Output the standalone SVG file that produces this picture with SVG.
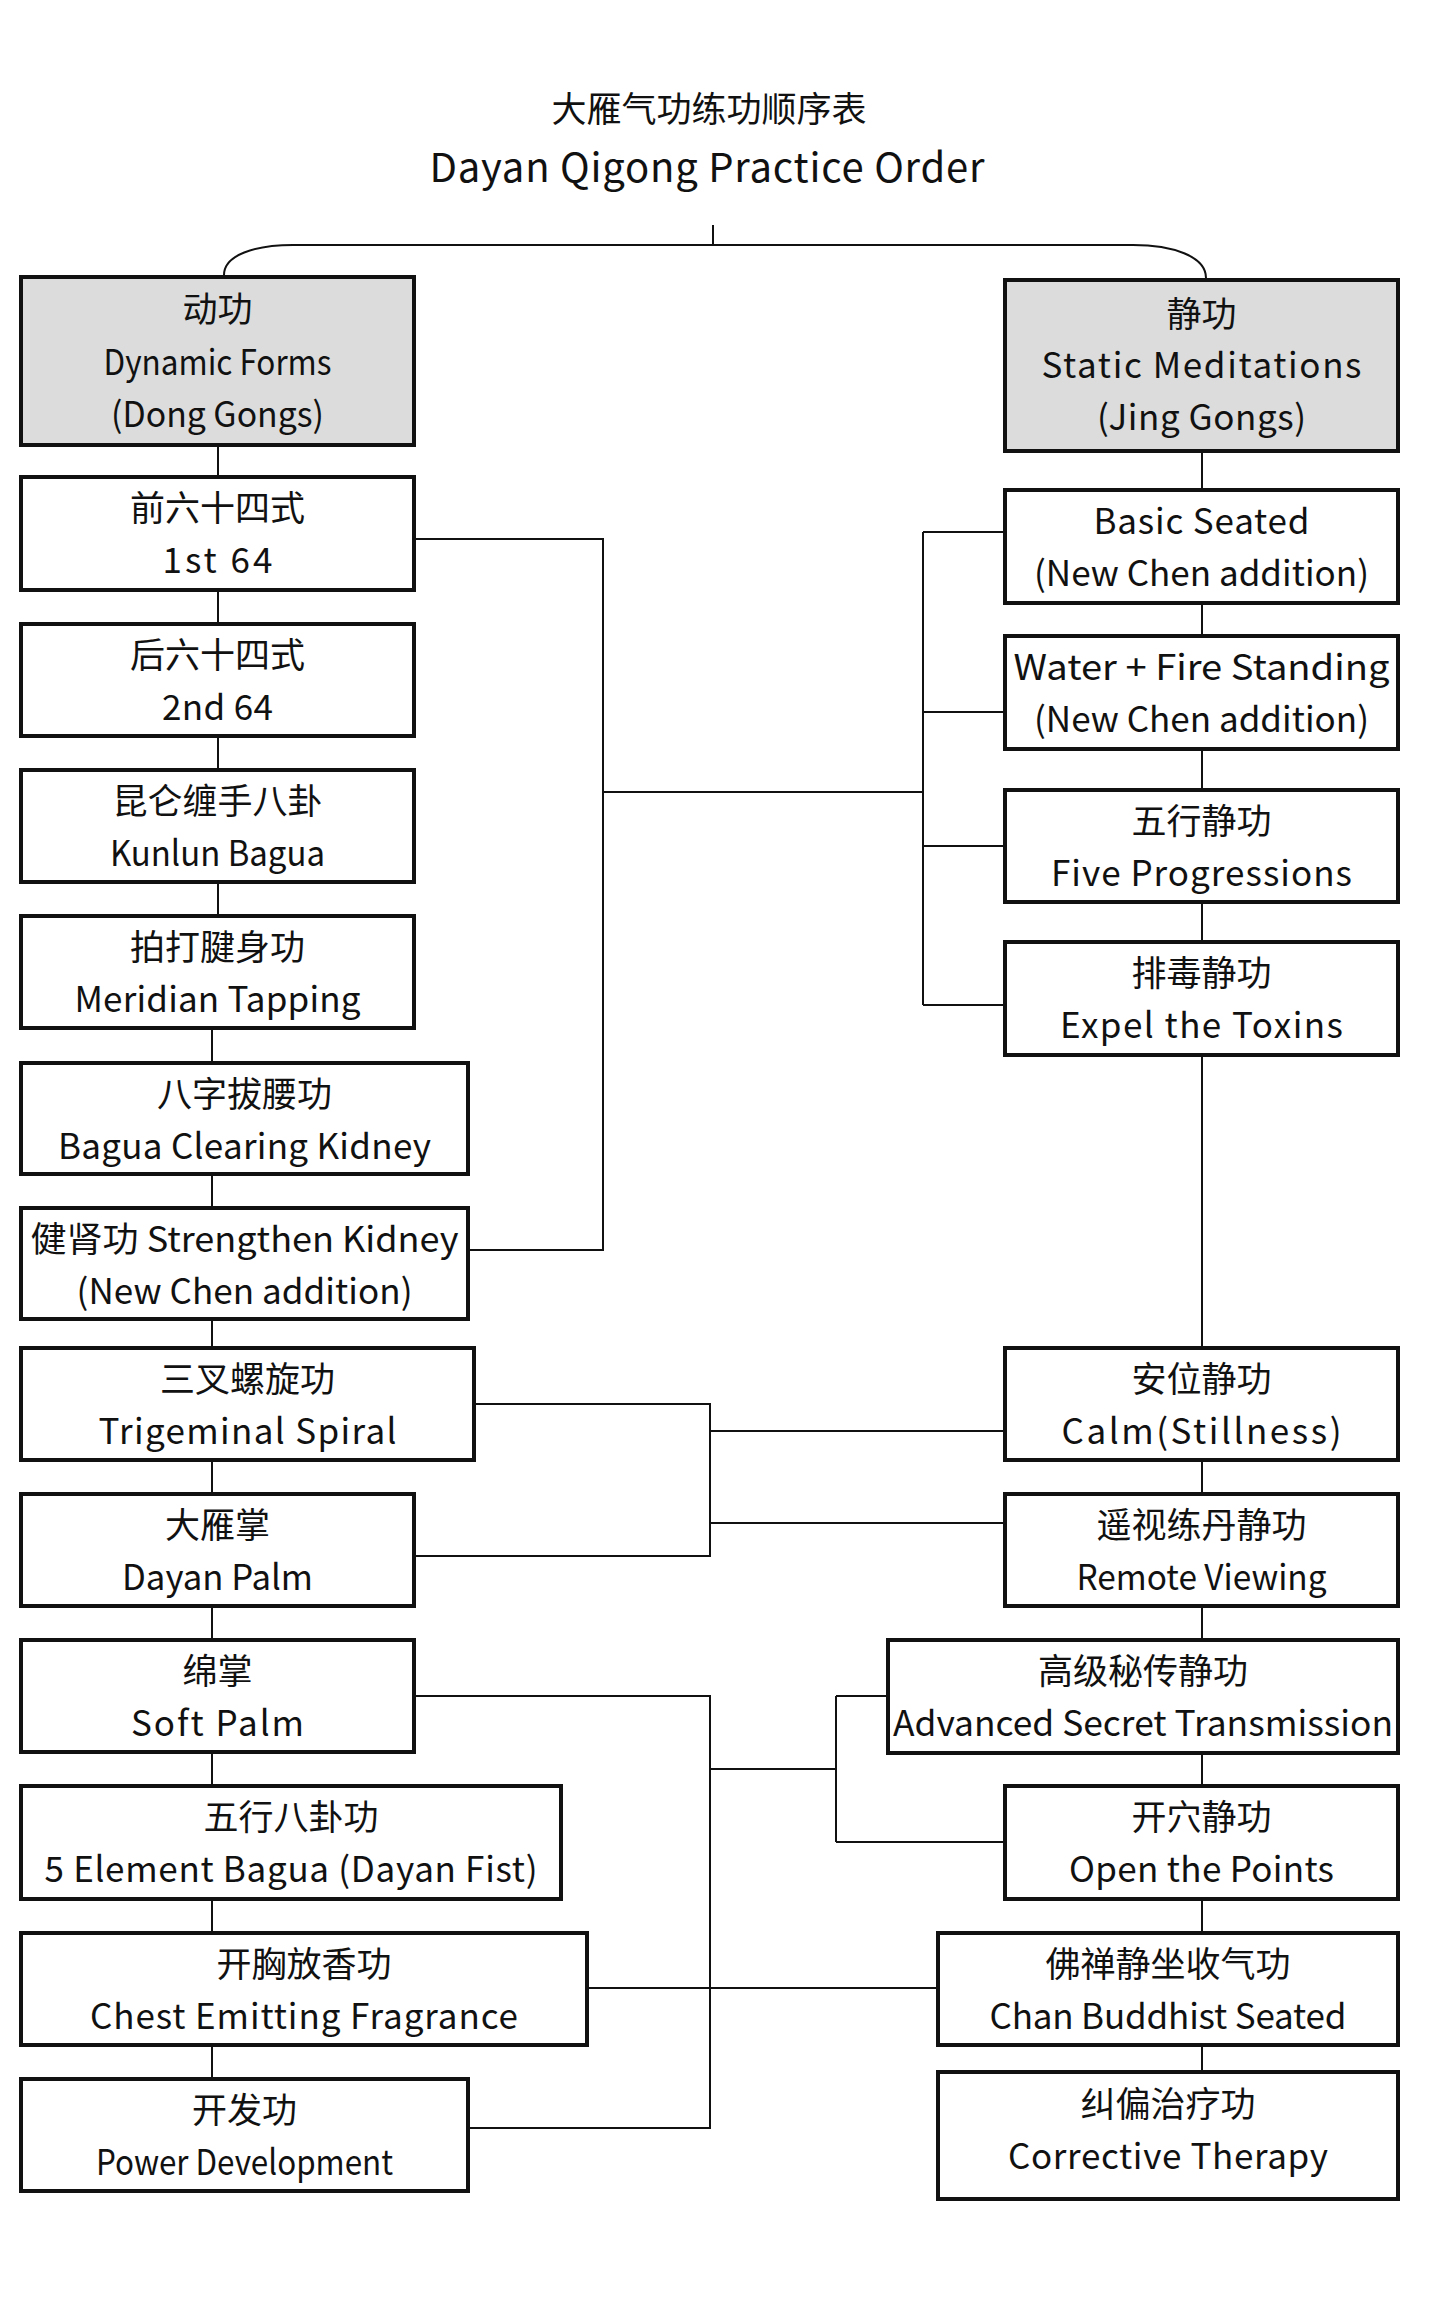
<svg xmlns="http://www.w3.org/2000/svg" width="1434" height="2323" viewBox="0 0 1434 2323">
<style>
.bg{fill:#fff}
.box{fill:#fff;stroke:#111;stroke-width:4}
.hdr{fill:#dcdcdc;stroke:#111;stroke-width:4}
.t{font-family:"Noto Sans CJK SC","Noto Sans",sans-serif;font-size:35px;fill:#111;text-anchor:middle}
.ti{font-size:40px}
.cn{fill:none;stroke:#111;stroke-width:2}
</style>
<rect class="bg" x="0" y="0" width="1434" height="2323"/>
<g id="title">
<text class="t" x="709" y="122">大雁气功练功顺序表</text>
<text class="t ti" x="707" y="182" textLength="555" lengthAdjust="spacing">Dayan Qigong Practice Order</text>
</g>
<g id="connectors">
<path class="cn" d="M713 225V245M293 245H1133M293 245C255 245 224 255 224 275M1133 245C1172 245 1206 256 1206 278"/>
<path class="cn" d="M218 447V475M218 592V622M218 738V768M218 884V914M212 1030V1061M212 1176V1206M212 1321V1346M212 1462V1492M212 1608V1638M212 1754V1784M212 1901V1931M212 2047V2077"/>
<path class="cn" d="M1202 453V488M1202 605V634M1202 751V788M1202 904V940M1202 1057V1346M1202 1462V1492M1202 1608V1638M1202 1755V1784M1202 1901V1931M1202 2047V2070"/>
<path class="cn" d="M416 539H603V1250H470M603 792H923M923 532V1005M923 532H1003M923 712H1003M923 846H1003M923 1005H1003"/>
<path class="cn" d="M476 1404H710V1556H416M710 1431H1003M710 1523H1003"/>
<path class="cn" d="M416 1696H710V2128H470M710 1769H836M836 1696V1842M836 1696H886M836 1842H1003M589 1988H936"/>
</g>
<g id="dong">
<rect class="hdr" x="21" y="277" width="393" height="168"/>
<text class="t" x="217.5" y="322">动功</text>
<text class="t" x="217.5" y="375" textLength="228" lengthAdjust="spacingAndGlyphs">Dynamic Forms</text>
<text class="t" x="217.5" y="427" textLength="213" lengthAdjust="spacingAndGlyphs">(Dong Gongs)</text>
</g>
<g id="first64">
<rect class="box" x="21" y="477" width="393" height="113"/>
<text class="t" x="217.5" y="521">前六十四式</text>
<text class="t" x="217.5" y="573" textLength="110" lengthAdjust="spacing">1st 64</text>
</g>
<g id="second64">
<rect class="box" x="21" y="624" width="393" height="112"/>
<text class="t" x="217.5" y="668">后六十四式</text>
<text class="t" x="217.5" y="720" textLength="111" lengthAdjust="spacing">2nd 64</text>
</g>
<g id="kunlun">
<rect class="box" x="21" y="770" width="393" height="112"/>
<text class="t" x="217.5" y="814">昆仑缠手八卦</text>
<text class="t" x="217.5" y="866" textLength="215" lengthAdjust="spacingAndGlyphs">Kunlun Bagua</text>
</g>
<g id="meridian">
<rect class="box" x="21" y="916" width="393" height="112"/>
<text class="t" x="217.5" y="960">拍打腱身功</text>
<text class="t" x="217.5" y="1012" textLength="286" lengthAdjust="spacing">Meridian Tapping</text>
</g>
<g id="baguakidney">
<rect class="box" x="21" y="1063" width="447" height="111"/>
<text class="t" x="244.5" y="1107">八字拔腰功</text>
<text class="t" x="244.5" y="1159" textLength="373" lengthAdjust="spacing">Bagua Clearing Kidney</text>
</g>
<g id="strengthen">
<rect class="box" x="21" y="1208" width="447" height="111"/>
<text class="t" x="244.5" y="1252" textLength="428" lengthAdjust="spacingAndGlyphs">健肾功 Strengthen Kidney</text>
<text class="t" x="244.5" y="1304" textLength="336" lengthAdjust="spacing">(New Chen addition)</text>
</g>
<g id="trigeminal">
<rect class="box" x="21" y="1348" width="453" height="112"/>
<text class="t" x="247.5" y="1392">三叉螺旋功</text>
<text class="t" x="247.5" y="1444" textLength="298" lengthAdjust="spacing">Trigeminal Spiral</text>
</g>
<g id="dayanpalm">
<rect class="box" x="21" y="1494" width="393" height="112"/>
<text class="t" x="217.5" y="1538">大雁掌</text>
<text class="t" x="217.5" y="1590" textLength="191" lengthAdjust="spacingAndGlyphs">Dayan Palm</text>
</g>
<g id="softpalm">
<rect class="box" x="21" y="1640" width="393" height="112"/>
<text class="t" x="217.5" y="1684">绵掌</text>
<text class="t" x="217.5" y="1736" textLength="173" lengthAdjust="spacing">Soft Palm</text>
</g>
<g id="fiveelement">
<rect class="box" x="21" y="1786" width="540" height="113"/>
<text class="t" x="291" y="1830">五行八卦功</text>
<text class="t" x="291" y="1882" textLength="493" lengthAdjust="spacing">5 Element Bagua (Dayan Fist)</text>
</g>
<g id="chest">
<rect class="box" x="21" y="1933" width="566" height="112"/>
<text class="t" x="304" y="1977">开胸放香功</text>
<text class="t" x="304" y="2029" textLength="428" lengthAdjust="spacing">Chest Emitting Fragrance</text>
</g>
<g id="power">
<rect class="box" x="21" y="2079" width="447" height="112"/>
<text class="t" x="244.5" y="2123">开发功</text>
<text class="t" x="244.5" y="2175" textLength="297" lengthAdjust="spacingAndGlyphs">Power Development</text>
</g>
<g id="jing">
<rect class="hdr" x="1005" y="280" width="393" height="171"/>
<text class="t" x="1201.5" y="327">静功</text>
<text class="t" x="1201.5" y="378" textLength="320" lengthAdjust="spacing">Static Meditations</text>
<text class="t" x="1201.5" y="430" textLength="209" lengthAdjust="spacing">(Jing Gongs)</text>
</g>
<g id="basicseated">
<rect class="box" x="1005" y="490" width="393" height="113"/>
<text class="t" x="1201.5" y="534" textLength="216" lengthAdjust="spacing">Basic Seated</text>
<text class="t" x="1201.5" y="586" textLength="335" lengthAdjust="spacing">(New Chen addition)</text>
</g>
<g id="waterfire">
<rect class="box" x="1005" y="636" width="393" height="113"/>
<text class="t" x="1201.5" y="680" textLength="376" lengthAdjust="spacingAndGlyphs">Water + Fire Standing</text>
<text class="t" x="1201.5" y="732" textLength="335" lengthAdjust="spacing">(New Chen addition)</text>
</g>
<g id="fiveprog">
<rect class="box" x="1005" y="790" width="393" height="112"/>
<text class="t" x="1201.5" y="834">五行静功</text>
<text class="t" x="1201.5" y="886" textLength="301" lengthAdjust="spacing">Five Progressions</text>
</g>
<g id="expel">
<rect class="box" x="1005" y="942" width="393" height="113"/>
<text class="t" x="1201.5" y="986">排毒静功</text>
<text class="t" x="1201.5" y="1038" textLength="283" lengthAdjust="spacing">Expel the Toxins</text>
</g>
<g id="calm">
<rect class="box" x="1005" y="1348" width="393" height="112"/>
<text class="t" x="1201.5" y="1392">安位静功</text>
<text class="t" x="1201.5" y="1444" textLength="280" lengthAdjust="spacing">Calm(Stillness)</text>
</g>
<g id="remote">
<rect class="box" x="1005" y="1494" width="393" height="112"/>
<text class="t" x="1201.5" y="1538">遥视练丹静功</text>
<text class="t" x="1201.5" y="1590" textLength="250" lengthAdjust="spacingAndGlyphs">Remote Viewing</text>
</g>
<g id="advanced">
<rect class="box" x="888" y="1640" width="510" height="113"/>
<text class="t" x="1143" y="1684">高级秘传静功</text>
<text class="t" x="1143" y="1736" textLength="500" lengthAdjust="spacingAndGlyphs">Advanced Secret Transmission</text>
</g>
<g id="openpoints">
<rect class="box" x="1005" y="1786" width="393" height="113"/>
<text class="t" x="1201.5" y="1830">开穴静功</text>
<text class="t" x="1201.5" y="1882" textLength="265" lengthAdjust="spacing">Open the Points</text>
</g>
<g id="chan">
<rect class="box" x="938" y="1933" width="460" height="112"/>
<text class="t" x="1168" y="1977">佛禅静坐收气功</text>
<text class="t" x="1168" y="2029" textLength="357" lengthAdjust="spacing">Chan Buddhist Seated</text>
</g>
<g id="corrective">
<rect class="box" x="938" y="2072" width="460" height="127"/>
<text class="t" x="1168" y="2117">纠偏治疗功</text>
<text class="t" x="1168" y="2169" textLength="320" lengthAdjust="spacing">Corrective Therapy</text>
</g>
</svg>
